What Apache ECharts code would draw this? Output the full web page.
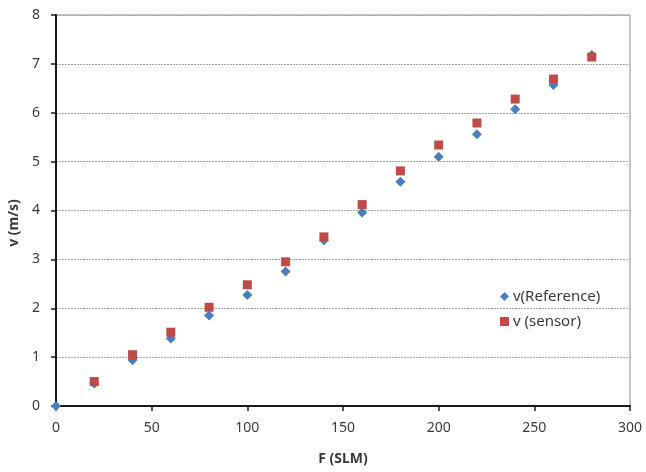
<!DOCTYPE html>
<html><head><meta charset="utf-8">
<script src="https://cdn.jsdelivr.net/npm/echarts@6/dist/echarts.min.js"></script>
<style>html,body{margin:0;padding:0;background:#fff}#c{width:646px;height:472px}</style>
</head><body><div id="c"></div>
<script>
var flowRef = [0, 20, 40, 60, 80, 100, 120, 140, 160, 180, 200, 220, 240, 260, 280];
var vReference = [0, 0.46, 0.94, 1.38, 1.85, 2.27, 2.75, 3.39, 3.96, 4.59, 5.10, 5.56, 6.07, 6.57, 7.18];
var flowSensor = [20, 40, 60, 80, 100, 120, 140, 160, 180, 200, 220, 240, 260, 280];
var vSensor = [0.50, 1.05, 1.51, 2.02, 2.48, 2.95, 3.46, 4.12, 4.81, 5.34, 5.79, 6.28, 6.69, 7.14];
var seriesNames = ['v(Reference)', 'v (sensor)'];

function pairs(xs, ys){ return xs.map(function(x,i){return [x, ys[i]];}); }
var font = 'Noto Sans';
var chart = echarts.init(document.getElementById('c'));
chart.setOption({
  animation:false,
  backgroundColor:'#fff',
  grid:{left:56,right:16,top:15,bottom:66,containLabel:false,outerBoundsMode:'none',
        show:true,borderColor:'#8c8c8c',borderWidth:1,backgroundColor:'transparent'},
  legend:{
    orient:'vertical', left:495, top:284, itemGap:10, itemWidth:9, itemHeight:9,
    textStyle:{fontFamily:font,fontSize:15,color:'#3a3a3a',padding:[0,0,0,-1]},
    data:[{name:seriesNames[0],icon:'diamond'},{name:seriesNames[1],icon:'rect'}]
  },
  xAxis:{
    type:'value',min:0,max:300,interval:50,
    name:'F (SLM)',nameLocation:'middle',nameGap:46,
    nameTextStyle:{fontFamily:font,fontSize:14,fontWeight:'bold',color:'#3a3a3a'},
    axisLine:{show:true,lineStyle:{color:'#1a1a1a',width:2}},
    axisTick:{show:true,inside:false,length:5,lineStyle:{color:'#1a1a1a',width:1.5}},
    axisLabel:{fontFamily:font,fontSize:14,color:'#3a3a3a',margin:15},
    splitLine:{show:false}
  },
  yAxis:{
    type:'value',min:0,max:8,interval:1,
    name:'v (m/s)',nameLocation:'middle',nameGap:34,nameRotate:90,
    nameTextStyle:{fontFamily:font,fontSize:14,fontWeight:'bold',color:'#3a3a3a',padding:[0,25,0,0]},
    axisLine:{show:true,lineStyle:{color:'#1a1a1a',width:2}},
    axisTick:{show:true,inside:false,length:5,lineStyle:{color:'#1a1a1a',width:1.5}},
    axisLabel:{fontFamily:font,fontSize:14,color:'#3a3a3a',margin:16},
    splitLine:{show:true,lineStyle:{color:'#a6a6a6',type:[2,1],width:1}}
  },
  series:[
    {name:seriesNames[0],type:'scatter',symbol:'diamond',symbolSize:10,
     itemStyle:{color:'#4a7ebb',opacity:1},data:pairs(flowRef,vReference),z:2},
    {name:seriesNames[1],type:'scatter',symbol:'rect',symbolSize:9,
     itemStyle:{color:'#be4b48',opacity:1},data:pairs(flowSensor,vSensor),z:3}
  ]
});
</script></body></html>
